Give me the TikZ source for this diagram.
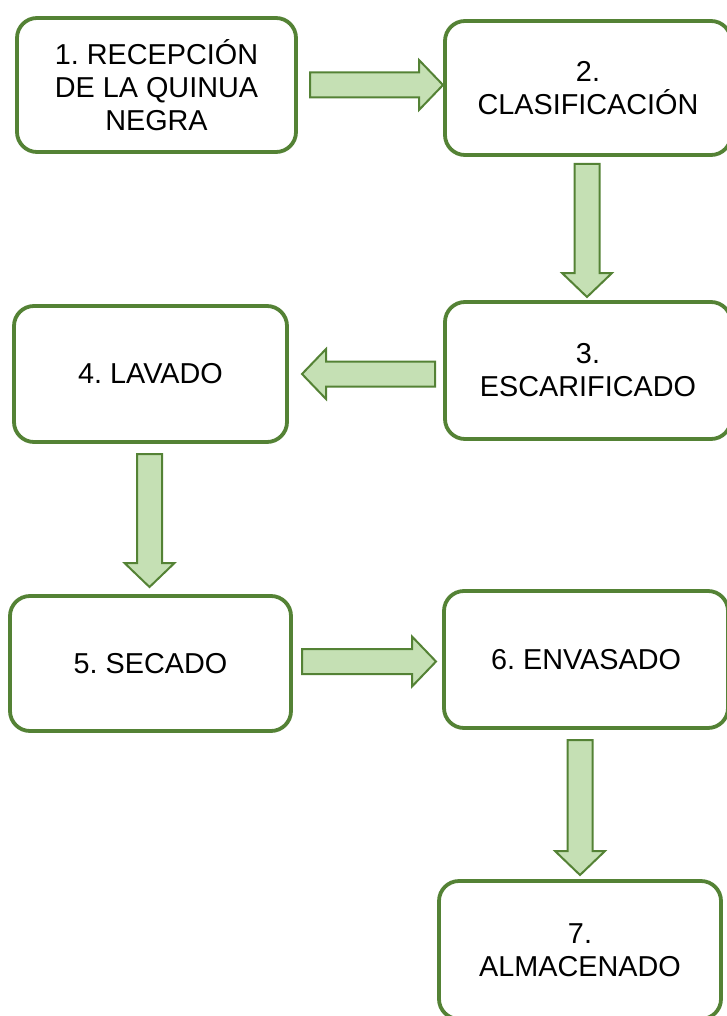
\documentclass[tikz,border=0pt]{standalone}
\usepackage{fontspec}
\setmainfont{Liberation Sans}
\usetikzlibrary{calc}
\frenchspacing
\definecolor{boxgreen}{RGB}{84,130,53}
\definecolor{arrowfill}{RGB}{197,224,180}
\tikzset{
  stepbox/.style={draw=boxgreen, line width=3.8pt, fill=white, rounded corners=20pt,
    inner sep=0pt, align=center, font=\fontsize{28.8}{33}\selectfont},
  blockarrowstyle/.style={draw=boxgreen, line width=2pt, fill=arrowfill, line join=miter},
}
\newcommand\blockarr[2]{%
  \coordinate (tmpH) at ($(#2)!24pt!(#1)$);
  \draw[blockarrowstyle] ($(#1)!12.5pt!90:(#2)$) -- ($(tmpH)!12.5pt!90:(#2)$)
    -- ($(tmpH)!25pt!90:(#2)$) -- (#2) -- ($(tmpH)!25pt!-90:(#2)$)
    -- ($(tmpH)!12.5pt!-90:(#2)$) -- ($(#1)!12.5pt!-90:(#2)$) -- cycle;
}
\begin{document}
\begin{tikzpicture}[x=1pt,y=-1pt]
\useasboundingbox (0,0) rectangle (726,1016);
\node[stepbox, minimum width=279pt, minimum height=134pt] (b1) at (156.5,85) {1. RECEPCIÓN\\DE LA QUINUA\\NEGRA};
\node[stepbox, minimum width=286pt, minimum height=134pt] (b2) at (588,88) {2.\\CLASIFICACIÓN};
\node[stepbox, minimum width=286pt, minimum height=137pt] (b3) at (588,370.5) {3.\\ESCARIFICADO};
\node[stepbox, minimum width=273pt, minimum height=136pt] (b4) at (150.5,374) {4. LAVADO};
\node[stepbox, minimum width=281pt, minimum height=135pt] (b5) at (150.5,663.5) {5. SECADO};
\node[stepbox, minimum width=284pt, minimum height=137pt] (b6) at (586,659.5) {6. ENVASADO};
\node[stepbox, minimum width=282pt, minimum height=138pt] (b7) at (580,950) {7.\\ALMACENADO};
\coordinate (s12) at (310,85);   \coordinate (e12) at (443,85);
\coordinate (s23) at (587,164);  \coordinate (e23) at (587,297);
\coordinate (s34) at (435,374);  \coordinate (e34) at (302,374);
\coordinate (s45) at (149.5,454);\coordinate (e45) at (149.5,587);
\coordinate (s56) at (302,661.5);\coordinate (e56) at (436,661.5);
\coordinate (s67) at (580,740);  \coordinate (e67) at (580,875);
\blockarr{s12}{e12}
\blockarr{s23}{e23}
\blockarr{s34}{e34}
\blockarr{s45}{e45}
\blockarr{s56}{e56}
\blockarr{s67}{e67}
\end{tikzpicture}
\end{document}
